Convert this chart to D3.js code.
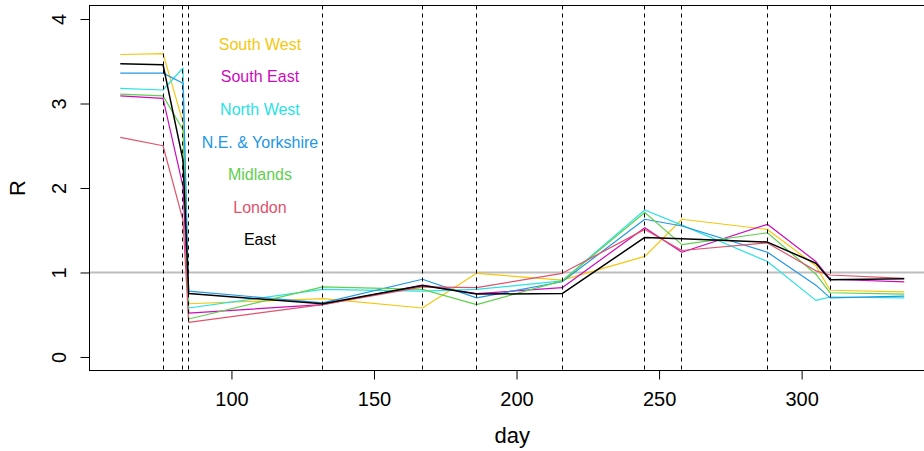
<!DOCTYPE html>
<html>
<head>
<meta charset="utf-8">
<script src="https://cdn.jsdelivr.net/npm/d3@7"></script>
<style>
  html, body { margin: 0; padding: 0; background: #fff; }
  svg { display: block; font-family: "Liberation Sans", Arial, Helvetica, sans-serif; }
</style>
</head>
<body>
<svg id="chart" width="924" height="451"></svg>
<script>
// Estimated reproduction number R by region over time (day of year)
const days = [61, 76, 83, 85, 132, 167, 186, 216, 245, 258, 288, 305, 310, 336];

const southWest = [3.58, 3.59, 2.78, 0.63, 0.69, 0.58, 0.99, 0.91, 1.19, 1.63, 1.51, 1.08, 0.79, 0.77];
const southEast = [3.09, 3.06, 2.02, 0.52, 0.62, 0.85, 0.75, 0.82, 1.53, 1.24, 1.57, 1.13, 0.92, 0.89];
const northWest = [3.18, 3.16, 3.42, 0.58, 0.80, 0.78, 0.80, 0.90, 1.74, 1.56, 1.13, 0.67, 0.71, 0.70];
const neYorkshire = [3.36, 3.36, 3.24, 0.78, 0.64, 0.92, 0.70, 0.89, 1.63, 1.55, 1.24, 0.85, 0.70, 0.72];
const midlands = [3.11, 3.09, 2.69, 0.45, 0.83, 0.80, 0.62, 0.90, 1.71, 1.33, 1.47, 0.98, 0.76, 0.745];
const london = [2.60, 2.50, 1.62, 0.41, 0.62, 0.83, 0.82, 0.99, 1.51, 1.26, 1.35, 1.02, 0.97, 0.93];
const east = [3.47, 3.46, 2.33, 0.75, 0.63, 0.845, 0.745, 0.75, 1.415, 1.40, 1.36, 1.11, 0.915, 0.925];

const regionNames = ["South West", "South East", "North West", "N.E. & Yorkshire", "Midlands", "London", "East"];
const regionValues = [southWest, southEast, northWest, neYorkshire, midlands, london, east];
const regionColors = ["#F5C710", "#CD0BBC", "#28E2E5", "#2297E6", "#61D04F", "#DF536B", "#000000"];

// Change-point days marked with dashed verticals
const breakDays = [76, 83, 85, 132, 167, 186, 216, 245, 258, 288, 310];

const xTicks = [100, 150, 200, 250, 300];
const yTicks = [0, 1, 2, 3, 4];

const svg = d3.select("#chart");
const plot = { left: 88.9, right: 935.6, top: 5.5, bottom: 370.5 };

const x = d3.scaleLinear().domain([50, 347]).range([plot.left, plot.right]);
const y = d3.scaleLinear().domain([-0.16, 4.16]).range([plot.bottom, plot.top]);

// reference line at R = 1
svg.append("line")
  .attr("x1", plot.left).attr("x2", plot.right)
  .attr("y1", y(1)).attr("y2", y(1))
  .attr("stroke", "#bebebe").attr("stroke-width", 2);

// regional R trajectories
const line = d3.line().x(d => x(d[0])).y(d => y(d[1]));
regionValues.forEach((vals, i) => {
  svg.append("path")
    .datum(days.map((d, j) => [d, vals[j]]))
    .attr("d", line)
    .attr("fill", "none")
    .attr("stroke", regionColors[i])
    .attr("stroke-width", i === 6 ? 1.5 : 1.2)
    .attr("stroke-linejoin", "round");
});

// dashed change-point markers
svg.append("g").selectAll("line").data(breakDays).join("line")
  .attr("x1", d => Math.floor(x(d)) + 0.5).attr("x2", d => Math.floor(x(d)) + 0.5)
  .attr("y1", plot.top).attr("y2", plot.bottom)
  .attr("stroke", "#000").attr("stroke-width", 1)
  .attr("stroke-dasharray", "4,4");

// region labels
const labelDay = 110;
regionNames.forEach((name, i) => {
  svg.append("text")
    .attr("x", x(labelDay))
    .attr("y", y(3.7 - i * 0.385))
    .attr("dy", "0.35em")
    .attr("text-anchor", "middle")
    .attr("font-size", 16)
    .attr("fill", regionColors[i])
    .text(name);
});

// plot frame
svg.append("rect")
  .attr("x", 89.5).attr("y", plot.top)
  .attr("width", plot.right - 89.5).attr("height", plot.bottom - plot.top)
  .attr("fill", "none").attr("stroke", "#000").attr("stroke-width", 1);

// axes
const xAxis = svg.append("g")
  .attr("transform", `translate(0,${plot.bottom})`)
  .call(d3.axisBottom(x).tickValues(xTicks).tickSize(9).tickSizeOuter(0).tickFormat(d3.format("d")));
xAxis.select(".domain").remove();
xAxis.selectAll("text")
  .attr("y", 35).attr("dy", 0)
  .attr("font-size", 20).attr("fill", "#000")
  .attr("font-family", "Liberation Sans, Arial, sans-serif");

const yAxis = svg.append("g")
  .attr("transform", `translate(89.5,0)`)
  .call(d3.axisLeft(y).tickValues(yTicks).tickSize(9).tickSizeOuter(0).tickFormat(d3.format("d")));
yAxis.select(".domain").remove();
yAxis.selectAll("text")
  .attr("x", 0).attr("dy", 0)
  .attr("transform", "translate(-24,0) rotate(-90)")
  .attr("text-anchor", "middle")
  .attr("font-size", 20).attr("fill", "#000")
  .attr("font-family", "Liberation Sans, Arial, sans-serif");

// axis titles
svg.append("text")
  .attr("x", (plot.left + plot.right) / 2).attr("y", 443)
  .attr("text-anchor", "middle").attr("font-size", 22)
  .text("day");

svg.append("text")
  .attr("transform", `translate(25,${(plot.top + plot.bottom) / 2}) rotate(-90)`)
  .attr("text-anchor", "middle").attr("font-size", 22)
  .text("R");
</script>
</body>
</html>
